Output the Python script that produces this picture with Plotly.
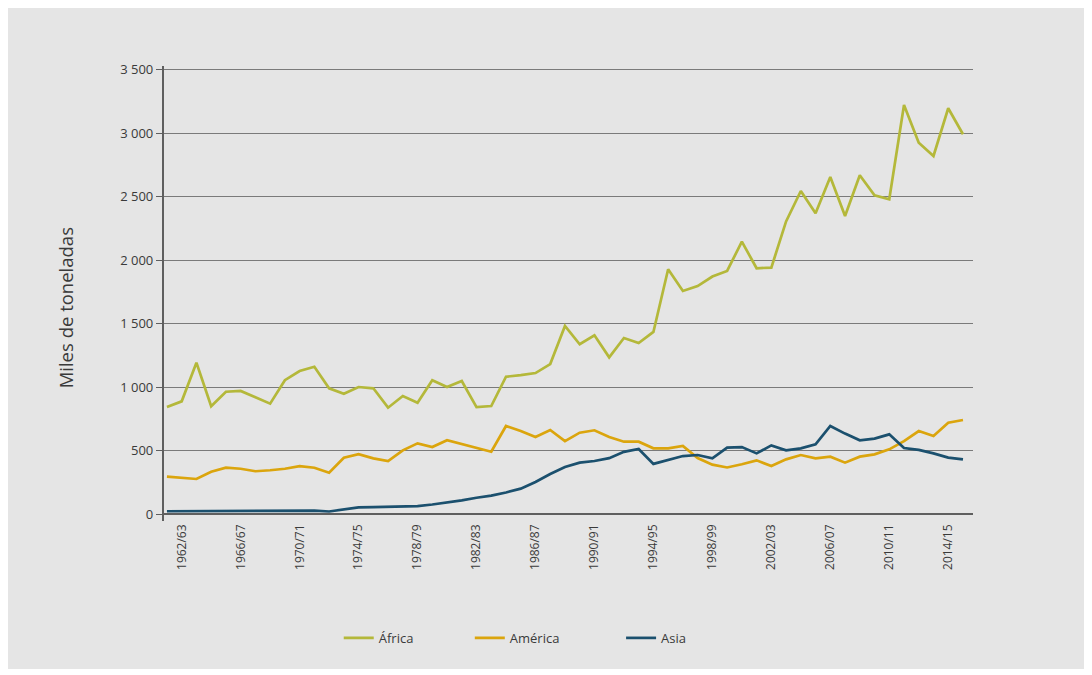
import plotly.graph_objects as go

seasons = [f"{y}/{str(y + 1)[-2:]}" for y in range(1961, 2016)]
tick_seasons = [s for i, s in enumerate(seasons) if (i - 1) % 4 == 0]

africa = [843, 888, 1193, 849, 964, 970, 921, 870, 1055, 1127,
          1161, 991, 948, 1001, 991, 838, 930, 877, 1054, 1001,
          1048, 843, 851, 1082, 1095, 1111, 1182, 1482, 1338, 1409,
          1235, 1387, 1348, 1435, 1929, 1758, 1797, 1872, 1916, 2147,
          1937, 1942, 2306, 2546, 2370, 2657, 2349, 2670, 2512, 2481,
          3224, 2927, 2822, 3198, 2993]

america = [294, 287, 276, 333, 365, 357, 337, 345, 357, 378,
           365, 326, 444, 471, 439, 418, 502, 557, 528, 581,
           553, 523, 491, 694, 654, 607, 662, 575, 641, 660,
           607, 570, 570, 518, 517, 536, 441, 389, 367, 392,
           423, 378, 431, 465, 439, 452, 405, 452, 470, 510,
           575, 654, 615, 720, 741]

asia = [22, 23, 23, 23, 24, 25, 26, 27, 28, 28,
        27, 20, 35, 52, 55, 57, 60, 63, 75, 89,
        108, 128, 145, 170, 200, 253, 315, 370, 405, 418,
        440, 490, 513, 395, 425, 457, 465, 439, 523, 528,
        478, 541, 502, 518, 549, 694, 634, 581, 594, 628,
        520, 505, 478, 445, 430]

series = [("África", africa, "#b4b83a", "legend"),
          ("América", america, "#dba50d", "legend2"),
          ("Asia", asia, "#1b506e", "legend3")]
legend_x = {"legend": 0.216, "legend2": 0.378, "legend3": 0.565}

fig = go.Figure()
for name, vals, col, lg in series:
    fig.add_trace(go.Scatter(
        x=list(range(len(seasons))), y=vals, name=name, mode="lines",
        line=dict(color=col, width=2.7), legend=lg,
    ))

font_family = "Open Sans, Noto Sans, sans-serif"
text_col = "#3a3a3a"

legend_common = dict(orientation="h", xanchor="left", y=-0.257, yanchor="middle",
                     font=dict(size=13, color=text_col), bgcolor="rgba(0,0,0,0)")

fig.update_layout(
    width=1078, height=661,
    margin=dict(l=156, r=113, t=58, b=148),
    paper_bgcolor="#e5e5e5",
    plot_bgcolor="#e5e5e5",
    separators=", ",
    font=dict(family=font_family, color=text_col, size=12),
    showlegend=True,
    legend=dict(x=legend_x["legend"], **legend_common),
    legend2=dict(x=legend_x["legend2"], **legend_common),
    legend3=dict(x=legend_x["legend3"], **legend_common),
    xaxis=dict(
        range=[-0.2, 54.68],
        tickmode="array",
        tickvals=[seasons.index(s) for s in tick_seasons],
        ticktext=tick_seasons,
        tickangle=-90,
        showgrid=False, zeroline=False, showline=False,
        ticks="",
        tickfont=dict(size=12, color=text_col),
    ),
    yaxis=dict(
        range=[-55, 3531],
        tickvals=[0, 500, 1000, 1500, 2000, 2500, 3000, 3500],
        tickformat=",d",
        showgrid=True, gridcolor="#7a7a7a", gridwidth=1.4,
        zeroline=True, zerolinecolor="#5f5f5f", zerolinewidth=2.2,
        showline=True, linecolor="#5f5f5f", linewidth=2.2,
        ticks="outside", ticklen=6, tickcolor="#5f5f5f", tickwidth=1.3,
        tickfont=dict(size=13, color=text_col),
    ),
    annotations=[dict(
        text="Miles de toneladas", xref="paper", yref="paper",
        x=-0.122, y=0.468, xanchor="center", yanchor="middle",
        textangle=-90, showarrow=False,
        font=dict(size=18.5, color=text_col),
    )],
)

fig.write_html("out.html")
